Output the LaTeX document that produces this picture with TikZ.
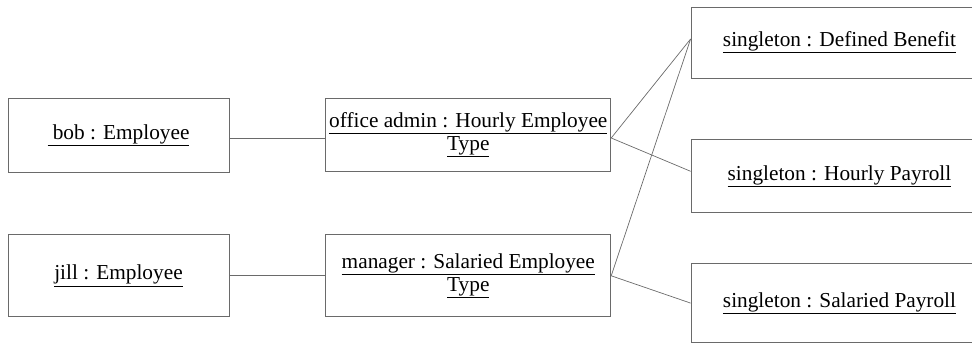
\documentclass[tikz,border=0pt]{standalone}
\usepackage{fontspec}
\setmainfont{Liberation Serif}
\usetikzlibrary{positioning}
\definecolor{boxline}{HTML}{6A6A6A}
\tikzset{
  obj/.style ={draw=boxline,line width=0.8pt,align=center,inner sep=2pt,
               font=\fontsize{21.3}{23}\selectfont},
  link/.style={draw=boxline,line width=0.7pt}
}

\begin{document}
\begin{tikzpicture}[x=1pt,y=1pt]
  \clip (0,0) rectangle (972,-344);
  % instances
  \node[obj,minimum width=221pt,minimum height=74pt] (bob) at (118.5,-135)
    {\underline{\ bob : Employee}};
  \node[obj,minimum width=221pt,minimum height=82pt,below=62pt of bob] (jill)
    {\underline{jill : Employee}};
  % employee types
  \node[obj,minimum width=285pt,minimum height=73pt,right=96pt of bob] (office)
    {\underline{office admin : Hourly Employee}\\\underline{Type}};
  \node[obj,minimum width=285pt,minimum height=82pt,right=96pt of jill] (manager)
    {\underline{manager : Salaried Employee}\\\underline{Type}};
  % singletons
  \node[obj,minimum width=297pt,minimum height=71pt] (benefit) at (839.5,-42.5)
    {\underline{singleton : Defined Benefit}};
  \node[obj,minimum width=297pt,minimum height=73pt,below=61pt of benefit] (hourly)
    {\underline{singleton : Hourly Payroll}};
  \node[obj,minimum width=297pt,minimum height=79pt,below=50pt of hourly] (salaried)
    {\underline{singleton : Salaried Payroll}};
  % links
  \draw[link] ([yshift=-3pt]bob.east) -- ([yshift=-3pt]office.west);
  \draw[link] (jill) -- (manager);
  \draw[link] ([yshift=-3pt]office.east) -- ([yshift=3.5pt]benefit.west);
  \draw[link] (manager.east) -- ([yshift=3.5pt]benefit.west);
  \draw[link] ([yshift=-3pt]office.east) -- ([yshift=5pt]hourly.west);
  \draw[link] (manager.east) -- (salaried.west);
\end{tikzpicture}
\end{document}
